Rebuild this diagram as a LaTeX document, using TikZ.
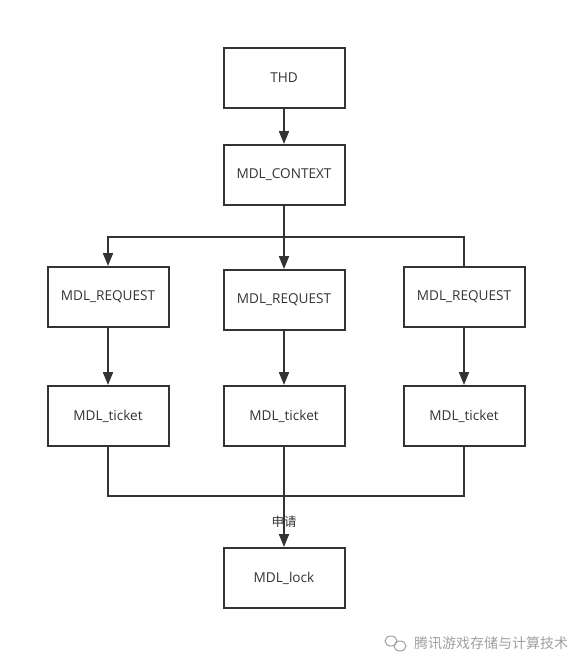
\documentclass[tikz,border=0pt]{standalone}
\usepackage{fontspec}
\setmainfont{Open Sans}
\newfontfamily\cjk{Noto Sans CJK SC}
\usetikzlibrary{arrows.meta}
\definecolor{ink}{HTML}{333333}
\definecolor{wm}{HTML}{A0A0A0}
\begin{document}
\begin{tikzpicture}[x=1pt,y=-1pt,
  box/.style={draw=ink, line width=2pt, minimum width=121pt, minimum height=60pt, inner sep=0pt, font=\fontsize{13.6}{15}\selectfont, text=ink},
  conn/.style={draw=ink, line width=2pt},
  arr/.style={conn, -{Triangle[length=13pt,width=10pt]}}]
\useasboundingbox (0,0) rectangle (587,670);
\node[box] (thd) at (284,78) {THD};
\node[box] (ctx) at (284,175) {MDL\_CONTEXT};
\node[box] (r1) at (108,297) {MDL\_REQUEST};
\node[box] (r2) at (284,300) {MDL\_REQUEST};
\node[box] (r3) at (464,297) {MDL\_REQUEST};
\node[box] (t1) at (108,416) {MDL\_ticket};
\node[box] (t2) at (284,416) {MDL\_ticket};
\node[box] (t3) at (464,416) {MDL\_ticket};
\node[box] (lk) at (284,578) {MDL\_lock};
\coordinate (j1) at (284,237);
\coordinate (j2) at (284,496);
\draw[arr] (thd) -- (ctx);
\draw[conn] (ctx.south) -- (j1);
\draw[arr] (j1) -- (r2.north);
\draw[arr] (j1) -| (r1.north);
\draw[conn] (j1) -| (r3.north);
\draw[arr] (r1) -- (t1);
\draw[arr] (r2) -- (t2);
\draw[arr] (r3) -- (t3);
\draw[conn] (t1.south) |- (j2);
\draw[conn] (t3.south) |- (j2);
\draw[conn] (t2.south) -- (j2);
\draw[arr] (j2) -- (lk.north);
\node[font=\cjk\fontsize{12.5}{14}\selectfont, text=ink, inner sep=0pt] (lbl) at (284,522) {申请};
% watermark
\draw[wm, line width=1pt] (391,641) ellipse (6pt and 5pt);
\draw[wm, line width=1pt] (400,646) ellipse (6pt and 5pt);
\node[font=\cjk\fontsize{14}{16}\selectfont, text=wm, anchor=west, inner sep=0pt] (wmt) at (414,643) {腾讯游戏存储与计算技术};
\end{tikzpicture}
\end{document}
